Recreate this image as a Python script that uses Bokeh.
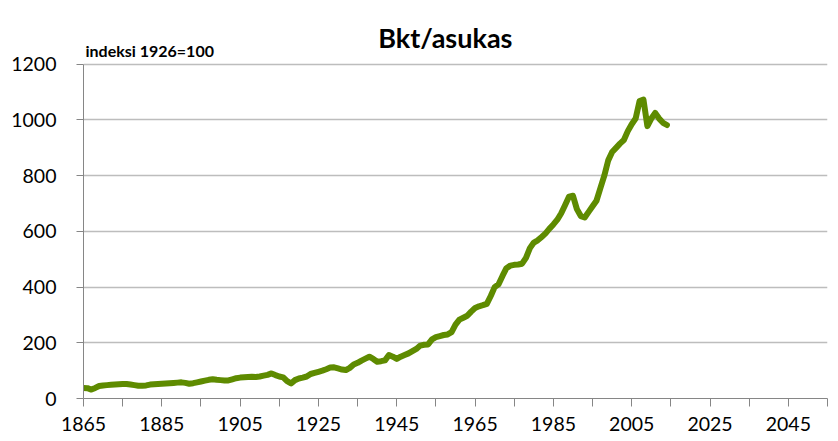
from bokeh.plotting import figure
from bokeh.models import Range1d, FixedTicker, Label
from bokeh.embed import file_html
from bokeh.resources import INLINE

# ---- data ----
years = list(range(1865, 2015))
index_values = [
    38, 37, 32, 38, 45, 47, 48, 49, 50, 51,          # 1865-1874
    52, 52, 50, 48, 46, 46, 47, 50, 51, 52,          # 1875-1884
    53, 54, 55, 56, 57, 58, 56, 53, 55, 58,          # 1885-1894
    61, 64, 67, 69, 67, 66, 65, 65, 69, 73,          # 1895-1904
    75, 76, 77, 78, 77, 79, 82, 85, 90, 84,          # 1905-1914
    79, 76, 62, 54, 66, 72, 75, 79, 88, 92,          # 1915-1924
    96, 100, 105, 111, 112, 108, 104, 102, 110, 122, # 1925-1934
    128, 136, 143, 150, 142, 132, 134, 137, 156, 150, # 1935-1944
    142, 150, 156, 162, 170, 178, 190, 193, 194, 212, # 1945-1954
    220, 224, 228, 230, 238, 265, 283, 290, 297, 312, # 1955-1964
    325, 331, 335, 340, 368, 400, 410, 440, 468, 477, # 1965-1974
    480, 481, 484, 505, 540, 560, 568, 580, 593, 610, # 1975-1984
    625, 642, 665, 695, 725, 728, 680, 655, 650, 670, # 1985-1994
    690, 710, 755, 800, 855, 885, 900, 915, 928, 960, # 1995-2004
    985, 1005, 1068, 1073, 978, 1005, 1025, 1005, 990, 982,  # 2005-2014
]

title_text = "Bkt/asukas"
unit_text = "indeksi 1926=100"
x_label_ticks = [1865, 1885, 1905, 1925, 1945, 1965, 1985, 2005, 2025, 2045]
x_minor_ticks = [1875, 1895, 1915, 1935, 1955, 1975, 1995, 2015, 2035, 2055]
y_ticks = [0, 200, 400, 600, 800, 1000, 1200]

FONT = "Lato"

p = figure(width=838, height=441, output_backend="svg", toolbar_location=None,
           x_range=Range1d(1865, 2055), y_range=Range1d(0, 1429),
           min_border_left=83, min_border_right=11, min_border_top=0,
           min_border_bottom=43)
p.outline_line_color = None
p.background_fill_color = "white"
p.border_fill_color = "white"

p.line(years, index_values, line_color="#5E8B00", line_width=6,
       line_join="round", line_cap="round")

# x axis
xa = p.xaxis[0]
xa.ticker = FixedTicker(ticks=x_label_ticks, minor_ticks=x_minor_ticks)
xa.axis_line_color = "#868686"
xa.major_tick_line_color = "#868686"
xa.minor_tick_line_color = "#868686"
xa.major_tick_in = 0
xa.major_tick_out = 8
xa.minor_tick_in = 0
xa.minor_tick_out = 8
xa.major_label_standoff = 10
xa.major_label_text_font = FONT
xa.major_label_text_font_size = "19.5px"
xa.major_label_text_color = "black"

# y axis (line limited to the 0-1200 scale; space above holds the titles)
ya = p.yaxis[0]
ya.ticker = FixedTicker(ticks=y_ticks)
ya.bounds = (0, 1200)
ya.axis_line_color = "#868686"
ya.major_tick_line_color = "#868686"
ya.minor_tick_line_color = None
ya.major_tick_in = 0
ya.major_tick_out = 7
ya.major_label_standoff = 20
ya.major_label_text_font = FONT
ya.major_label_text_font_size = "19.5px"
ya.major_label_text_color = "black"

p.xgrid.grid_line_color = None
p.ygrid.grid_line_color = "#BDBDBD"
p.ygrid.grid_line_width = 1.3

# title and unit note
p.add_layout(Label(x=1957.4, y=1297, text=title_text, text_align="center",
                   text_baseline="alphabetic", text_font=FONT,
                   text_font_size="27px", text_font_style="bold",
                   text_color="black"))
p.add_layout(Label(x=1865.5, y=1249, text=unit_text, text_align="left",
                   text_baseline="alphabetic", text_font=FONT,
                   text_font_size="16px", text_font_style="bold",
                   text_color="black"))

open("out.html", "w").write(file_html(p, INLINE))
